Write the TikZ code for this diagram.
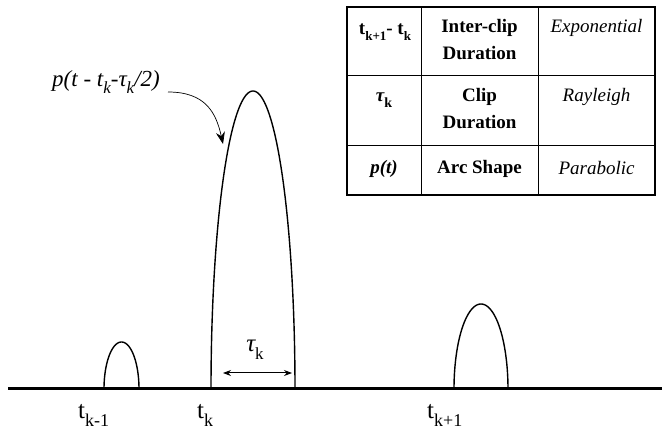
\documentclass[tikz,border=0pt]{standalone}
\usepackage{fontspec}
\setmainfont{Liberation Serif}
\usetikzlibrary{arrows.meta}
\newcommand{\lowsub}[2][17]{\raisebox{-0.3em}{\fontsize{#1}{#1}\selectfont #2}}
\begin{document}
\begin{tikzpicture}[x=1pt,y=-1pt,
  lbl/.style={inner sep=0pt, font=\fontsize{25}{28}\selectfont},
  cellb/.style={inner sep=0pt, align=center, font=\fontsize{19}{27}\selectfont\bfseries},
  celli/.style={inner sep=0pt, align=center, font=\fontsize{19}{27}\selectfont\itshape},
  pulse/.style={line width=1.4pt},
  tline/.style={line width=0.8pt},
]
\useasboundingbox (0,0) rectangle (662,430);
% baseline
\coordinate (bl) at (8,389);
\coordinate (br) at (662,389);
\draw[line width=3pt] (bl) -- (br);
% pulses (half-ellipse shapes)
\draw[pulse] plot[domain=180:0,samples=80] ({121.5+17.5*cos(\x)},{389-47*sin(\x)});
\draw[pulse] plot[domain=180:0,samples=100] ({253+42*cos(\x)},{389-298*sin(\x)});
\draw[pulse] plot[domain=180:0,samples=80] ({481+27*cos(\x)},{389-85*sin(\x)});
% time labels
\node[lbl, anchor=base west] (tkm) at (78,419) {t\lowsub[18]{k-1}};
\node[lbl, anchor=base west] (tk) at (197,419) {t\lowsub[18]{k}};
\node[lbl, anchor=base west] (tkp) at (427,419) {t\lowsub[18]{k+1}};
% tau_k
\node[lbl] (tau) at (255,350) {\itshape τ\lowsub{\upshape k}};
\coordinate (al) at (223,373);
\coordinate (ar) at (292,373);
\draw[line width=1pt, {Stealth[length=8pt,width=6pt]}-{Stealth[length=8pt,width=6pt]}] (al) -- (ar);
% pulse label and pointer
\node[lbl, anchor=west, font=\fontsize{23}{26}\selectfont] (plab) at (52,82) {\itshape p(t - t\lowsub{k}-τ\lowsub{k}/2)};
\coordinate (pstart) at (168,92);
\coordinate (ptip) at (223,144);
\draw[line width=0.7pt, -{Stealth[length=12pt,width=9pt]}] (pstart) .. controls (205,92) and (216,112) .. (ptip);
% table
\draw[line width=2pt] (347,7) rectangle (655,195);
\draw[tline] (421,7) -- (421,195);
\draw[tline] (538,7) -- (538,195);
\draw[tline] (347,75) -- (655,75);
\draw[tline] (347,145) -- (655,145);
\node[cellb] (c11) at (385,32) {t\lowsub[13]{k+1}- t\lowsub[13]{k}};
\node[cellb, anchor=north] (c12) at (479.5,19) {Inter-clip\\Duration};
\node[celli, anchor=north] (c13) at (596.5,19) {Exponential};
\node[cellb] (c21) at (384,100) {\itshape τ\lowsub[14]{\upshape k}};
\node[cellb, anchor=north] (c22) at (479.5,88) {Clip\\Duration};
\node[celli, anchor=north] (c23) at (596.5,88) {Rayleigh};
\node[cellb] (c31) at (384,169) {\itshape p(t)};
\node[cellb] (c32) at (479.5,169) {Arc Shape};
\node[celli] (c33) at (596.5,168) {Parabolic};
\end{tikzpicture}
\end{document}
